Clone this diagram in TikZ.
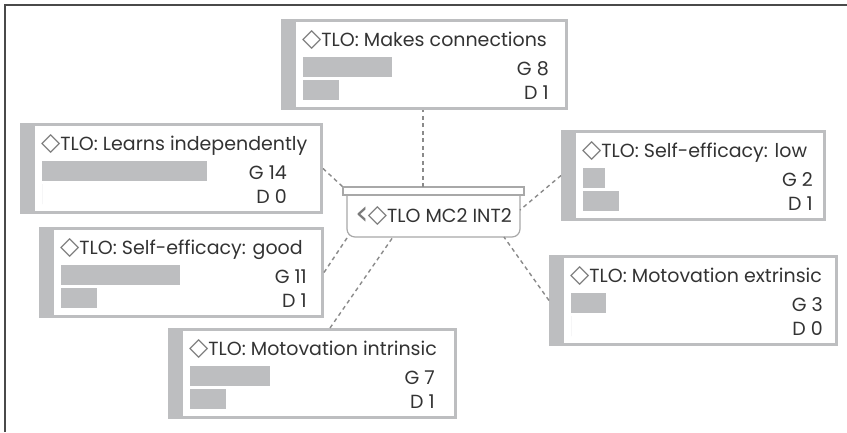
\documentclass[tikz,border=0pt]{standalone}
\usepackage{fontspec}
\setmainfont{Poppins}
\newfontfamily\symfont{DejaVu Sans}
\usetikzlibrary{calc}

\definecolor{ink}{HTML}{333333}
\definecolor{barfill}{HTML}{BDBEC0}
\definecolor{symgray}{HTML}{7A7A7A}
\definecolor{linkgray}{HTML}{8A8A8A}
\definecolor{hubline}{HTML}{A8A8A8}
\definecolor{framec}{HTML}{4A4A4A}

\tikzset{
  boxbase/.style={fill=barfill, inner sep=0pt, outer sep=0pt, anchor=north west},
  titletext/.style={text=ink, inner sep=0pt, font=\fontsize{19}{22}\selectfont},
  counttext/.style={text=ink, inner sep=0pt, font=\fontsize{19}{22}\selectfont},
  link/.style={draw=linkgray, line width=1.4pt, dash pattern=on 4pt off 3.5pt},
  hubshape/.style={draw=hubline, line width=1.2pt},
}

% outlined diamond marker in front of each outcome title
\newcommand\dia{{\symfont\color{symgray}\fontsize{25}{22}\selectfont ◇}}

% outcome card: name, x, y, width, title, G count, D count, G bar length, right inset of counts
\newcommand\tlobox[9]{%
  \node[boxbase, minimum width=#4pt, minimum height=91pt] (#1) at (#2,#3) {};
  \fill[white] ($(#1.north west)+(15,3)$) rectangle ($(#1.south east)+(-3,-3)$);
  \node[titletext, anchor=base west] (#1-title) at ({#2+21},{#3+27.5}) {\dia\hspace{0pt}#5};
  \fill[barfill] ({#2+22},{#3+38}) rectangle +(#8,20);
  \fill[barfill] ({#2+22},{#3+61}) rectangle +({36*#7},20);
  \node[counttext, anchor=base east] (#1-g) at ({#2+#4-#9},{#3+56.5}) {G #6};
  \node[counttext, anchor=base east] (#1-d) at ({#2+#4-#9},{#3+80.5}) {D #7};
}

\begin{document}
\begin{tikzpicture}[x=1pt,y=-1pt]
\useasboundingbox (0,0) rectangle (847,432);

% frame
\draw[framec, line width=1.5pt] (5,432) -- (5,5) -- (847,5);

% outcome cards
\tlobox{b1}{281}{19}{287}{TLO: Makes connections}{8}{1}{89}{19}
\tlobox{b2}{20}{123}{303}{TLO: Learns independently}{14}{0}{165}{36}
\tlobox{b3}{39}{227}{285}{TLO: Self-efficacy: good}{11}{1}{119}{17}
\tlobox{b4}{561}{130}{265}{TLO: Self-efficacy: low}{2}{1}{22}{13}
\tlobox{b5}{549}{255}{289}{TLO: Motovation extrinsic}{3}{0}{35}{15}
\tlobox{b6}{168}{328}{289}{TLO: Motovation intrinsic}{7}{1}{80}{22}

% central node
\node[inner sep=0pt, outer sep=0pt, minimum width=173pt, minimum height=42pt,
      anchor=north west, text=ink, font=\fontsize{19}{22}\selectfont] (hub) at (347,195)
  {\raisebox{-1.5pt}{\symfont\color{symgray}\fontsize{34}{22}\selectfont ‹}\kern-1pt{\symfont\color{symgray}\fontsize{25}{22}\selectfont ◇}TLO MC2 INT2};
\draw[hubshape, rounded corners=8pt] (hub.north west) -- (hub.south west) -- (hub.south east) -- (hub.north east);
\draw[hubshape, fill=white] ($(hub.north west)+(-4,-8)$) rectangle ($(hub.north east)+(4,0)$);
\coordinate (hub-top) at ($(hub.north west)+(76,-8)$);

% connectors
\draw[link] (hub-top) -- (hub-top |- b1.south);
\draw[link] (b2.east) -- ($(hub.north west)+(-4,-8)$);
\draw[link] (b3.east) -- ($(hub.south west)+(2,-2)$);
\draw[link] ($(b6.north west)+(162,0)$) -- ($(hub.south west)+(46,0)$);
\draw[link] (b4.west) -- ($(hub.east)+(0,-6)$);
\draw[link] (b5.west) -- ($(hub.south east)+(-16,0)$);
\end{tikzpicture}
\end{document}
